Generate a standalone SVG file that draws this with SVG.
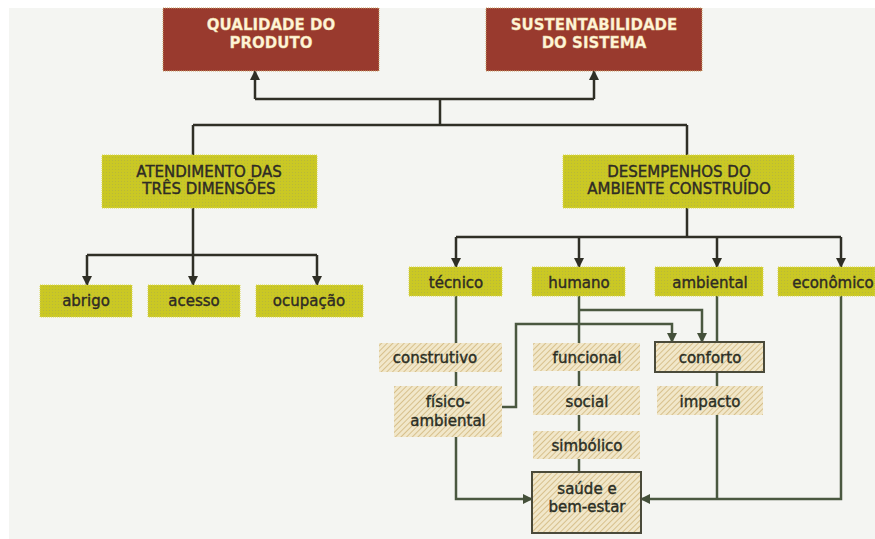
<svg xmlns="http://www.w3.org/2000/svg" width="875" height="539" viewBox="0 0 875 539">
<defs>
<pattern id="hatch" width="4" height="4" patternUnits="userSpaceOnUse" patternTransform="rotate(45)">
<rect width="4" height="4" fill="#f1e7ca"/>
<line x1="0" y1="0" x2="0" y2="4" stroke="#d3b981" stroke-width="1.7"/>
</pattern>
<pattern id="dots" width="3" height="3" patternUnits="userSpaceOnUse">
<rect width="3" height="3" fill="#cac824"/>
<rect x="1" y="1" width="1" height="1" fill="#b9b83a"/>
</pattern>
<marker id="ah" viewBox="0 0 10 10" refX="9" refY="5" markerWidth="10" markerHeight="10" markerUnits="userSpaceOnUse" orient="auto">
<path d="M0,0 L10,5 L0,10 z" fill="#2f2f26"/>
</marker>
<marker id="ag" viewBox="0 0 10 10" refX="9" refY="5" markerWidth="10" markerHeight="10" markerUnits="userSpaceOnUse" orient="auto">
<path d="M0,0 L10,5 L0,10 z" fill="#44503a"/>
</marker>
</defs>
<style>
text{font-family:"DejaVu Sans","Verdana",sans-serif;text-anchor:middle}
.red{fill:#993a2e;stroke:#c9a46a;stroke-width:1;stroke-dasharray:1 1}
.t1{font-size:15px;font-weight:bold;fill:#fff4d8;stroke:#e8d9a0;stroke-width:0.3}
.olive{fill:url(#dots);stroke:#dcd84a;stroke-width:1;stroke-dasharray:1 1}
.t2{font-size:15px;fill:#2e2b24;stroke:#2e2b24;stroke-width:0.4}
.tan{fill:url(#hatch)}
.tanb{fill:url(#hatch);stroke:#4a4a3a;stroke-width:2}
.t3{font-size:15px;fill:#2a2e24;stroke:#2a2e24;stroke-width:0.4}
.c{fill:none;stroke:#2f2f26;stroke-width:2.5}
.g{fill:none;stroke:#4a5840;stroke-width:2.5}
</style>
<rect x="9" y="8" width="866" height="531" fill="#f4f5f2"/>

<g id="connectors">
<path class="c" d="M255,99 L594,99"/>
<path class="c" d="M255,99 L255,71" marker-end="url(#ah)"/>
<path class="c" d="M594,99 L594,71" marker-end="url(#ah)"/>
<path class="c" d="M440,99 L440,125"/>
<path class="c" d="M193,125 L687,125"/>
<path class="c" d="M193,125 L193,155"/>
<path class="c" d="M687,125 L687,155"/>
<path class="c" d="M193,208 L193,255"/>
<path class="c" d="M87,255 L317,255"/>
<path class="c" d="M87,255 L87,285" marker-end="url(#ah)"/>
<path class="c" d="M193,255 L193,285" marker-end="url(#ah)"/>
<path class="c" d="M317,255 L317,285" marker-end="url(#ah)"/>
<path class="c" d="M687,208 L687,237"/>
<path class="c" d="M456,237 L841,237"/>
<path class="c" d="M456,237 L456,267" marker-end="url(#ah)"/>
<path class="c" d="M579,237 L579,267" marker-end="url(#ah)"/>
<path class="c" d="M717,237 L717,267" marker-end="url(#ah)"/>
<path class="c" d="M841,237 L841,267" marker-end="url(#ah)"/>
<path class="g" d="M456,296 L456,499 L532,499" marker-end="url(#ag)"/>
<path class="g" d="M579,296 L579,472"/>
<path class="g" d="M579,310 L702,310 L702,342" marker-end="url(#ag)"/>
<path class="g" d="M502,407 L516,407 L516,324 L672,324 L672,342" marker-end="url(#ag)"/>
<path class="g" d="M717,296 L717,499"/>
<path class="g" d="M841,296 L841,499 L641,499" marker-end="url(#ag)"/>
</g>

<g id="qualidade"><rect class="red" x="163" y="8" width="216" height="63"/><text class="t1" x="271" y="30">QUALIDADE DO</text><text class="t1" x="271" y="48">PRODUTO</text></g>
<g id="sustentabilidade"><rect class="red" x="486" y="8" width="216" height="63"/><text class="t1" x="594" y="30">SUSTENTABILIDADE</text><text class="t1" x="594" y="48">DO SISTEMA</text></g>

<g id="atendimento"><rect class="olive" x="102" y="155" width="215" height="53"/><text class="t2" x="209" y="177">ATENDIMENTO DAS</text><text class="t2" x="209" y="194">TRÊS DIMENSÕES</text></g>
<g id="desempenhos"><rect class="olive" x="563" y="155" width="231" height="53"/><text class="t2" x="679" y="177">DESEMPENHOS DO</text><text class="t2" x="679" y="194">AMBIENTE CONSTRUÍDO</text></g>

<g id="abrigo"><rect class="olive" x="40" y="285" width="92" height="32"/><text class="t2" x="86" y="306">abrigo</text></g>
<g id="acesso"><rect class="olive" x="148" y="285" width="92" height="32"/><text class="t2" x="194" y="306">acesso</text></g>
<g id="ocupacao"><rect class="olive" x="256" y="285" width="107" height="32"/><text class="t2" x="309" y="306">ocupação</text></g>

<g id="tecnico"><rect class="olive" x="409" y="267" width="93" height="29"/><text class="t2" x="456" y="288">técnico</text></g>
<g id="humano"><rect class="olive" x="532" y="267" width="93" height="29"/><text class="t2" x="579" y="288">humano</text></g>
<g id="ambiental"><rect class="olive" x="655" y="267" width="108" height="29"/><text class="t2" x="710" y="288">ambiental</text></g>
<g id="economico"><rect class="olive" x="778" y="267" width="97" height="29"/><text class="t2" x="833" y="288">econômico</text></g>

<g id="construtivo"><rect class="tan" x="379" y="343" width="123" height="29"/><text class="t3" x="435" y="363">construtivo</text></g>
<g id="fisico"><rect class="tan" x="394" y="386" width="108" height="51"/><text class="t3" x="448" y="407">físico-</text><text class="t3" x="448" y="426">ambiental</text></g>
<g id="funcional"><rect class="tan" x="533" y="343" width="107" height="28"/><text class="t3" x="587" y="363">funcional</text></g>
<g id="social"><rect class="tan" x="533" y="386" width="107" height="29"/><text class="t3" x="587" y="407">social</text></g>
<g id="simbolico"><rect class="tan" x="533" y="431" width="107" height="28"/><text class="t3" x="587" y="451">simbólico</text></g>
<g id="conforto"><rect class="tanb" x="655" y="342" width="109" height="30"/><text class="t3" x="710" y="363">conforto</text></g>
<g id="impacto"><rect class="tan" x="657" y="386" width="106" height="29"/><text class="t3" x="710" y="407">impacto</text></g>
<g id="saude"><rect class="tanb" x="532" y="472" width="109" height="61"/><text class="t3" x="587" y="494">saúde e</text><text class="t3" x="587" y="512">bem-estar</text></g>
</svg>
